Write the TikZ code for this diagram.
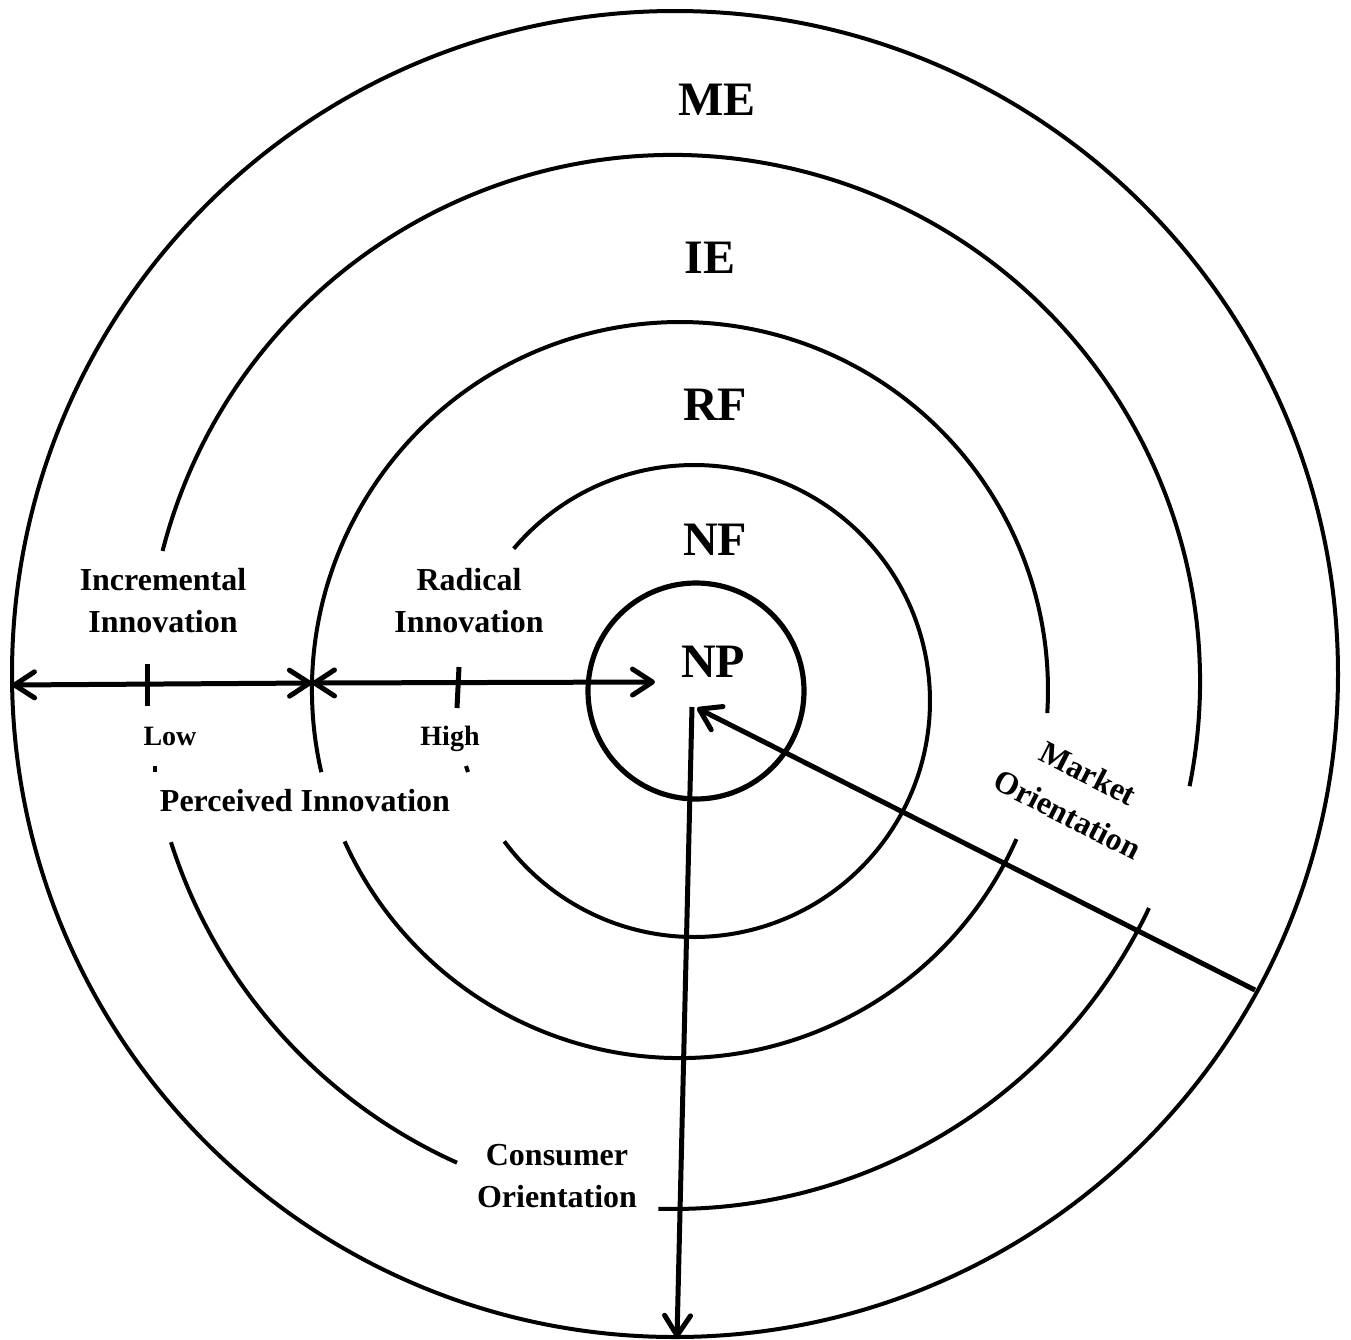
\documentclass[tikz,border=0pt]{standalone}
\usepackage{fontspec}
\setmainfont{Liberation Serif}
\usetikzlibrary{arrows.meta}
\tikzset{
  ring/.style={line width=2pt},
  big/.style={font=\fontsize{24}{28}\selectfont\bfseries},
  lbl/.style={font=\fontsize{16}{21}\selectfont\bfseries, align=center},
  small/.style={font=\fontsize{14}{17}\selectfont\bfseries},
  barb/.style={line width=2.5pt, arrows={-Straight Barb[length=10pt,width=13pt,round]}},
  twobarb/.style={line width=2.5pt, arrows={Straight Barb[length=10pt,width=13pt,round]-Straight Barb[length=10pt,width=13pt,round]}},
}
\begin{document}
\begin{tikzpicture}[x=0.5pt,y=-0.5pt]
            \useasboundingbox (0,0) rectangle (1351,1340);

            % rings, outside in
            \coordinate (cME) at (675,674);
            \coordinate (cIE) at (673,682);
            \coordinate (cRF) at (680,690);
            \coordinate (cNF) at (694,701);
            \coordinate (cNP) at (696,691);

            \draw[ring] (cME) circle[radius=663];
            \draw[ring] (cIE) ++(114.2:527) arc[start angle=114.2, end angle=162.3, radius=527];
            \draw[ring] (cIE) ++(25.4:527) arc[start angle=25.4, end angle=91.6, radius=527];
            \draw[ring] (cIE) ++(-165.6:527) arc[start angle=-165.6, end angle=11.4, radius=527];
            \draw[ring] (cRF) ++(23.9:368) arc[start angle=23.9, end angle=155.7, radius=368];
            \draw[ring] (cRF) ++(167.1:368) arc[start angle=167.1, end angle=363.6, radius=368];
            \draw[ring] (cNF) ++(-139.8:236) arc[start angle=-139.8, end angle=143.5, radius=236];
            \draw[line width=2.6pt] (cNP) circle[radius=108];

            \node[big] (ME) at (717,100) {ME};
            \node[big] (IE) at (710,258) {IE};
            \node[big] (RF) at (715,405) {RF};
            \node[big] (NF) at (715,540) {NF};
            \node[big] (NP) at (713,662) {NP};

            % perceived innovation scale
            \coordinate (lowL) at (12,685);
            \coordinate (mid) at (312,683);
            \coordinate (highR) at (655,682);
            \draw[twobarb] (lowL) -- (mid);
            \draw[twobarb] (mid) -- (highR);
            \draw[line width=2.5pt] (147,664) -- (147,706);
            \draw[line width=2.5pt] (459,667) -- (457,708);
            \draw[line width=2pt] (155,766) -- (155,772);
            \draw[line width=2pt] (466,766) -- (468,772);

            \node[lbl] (incr) at (163,601) {Incremental\\Innovation};
            \node[lbl] (rad) at (469,601) {Radical\\Innovation};
            \node[small] (low) at (170,736) {Low};
            \node[small] (high) at (450,739) {High};
            \node[lbl] (perc) at (305,801) {Perceived Innovation};

            % orientations
            \coordinate (coTop) at (692,707);
            \coordinate (coEnd) at (677,1338);
            \coordinate (moEnd) at (1255,990);
            \coordinate (moTip) at (697,708);
            \draw[barb] (coTop) -- (coEnd);
            \draw[barb] (moEnd) -- (moTip);

            \node[lbl] (cons) at (557,1176) {Consumer\\Orientation};
            \node[lbl, font=\fontsize{16}{23}\selectfont\bfseries, rotate=-27] (mkt) at (1078,794) {Market\\Orientation};
\end{tikzpicture}
\end{document}
